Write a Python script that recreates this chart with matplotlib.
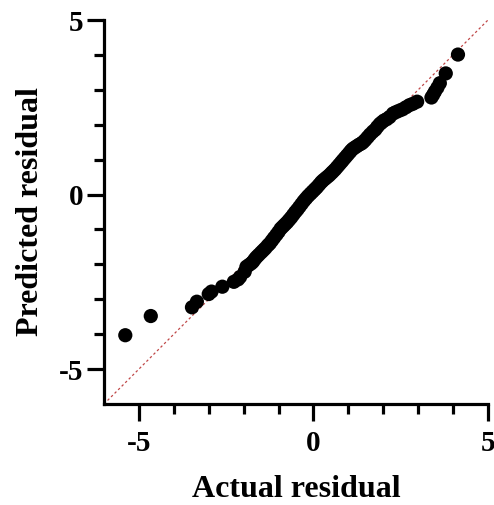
import matplotlib.pyplot as plt
from matplotlib.ticker import FixedLocator

# Residual pairs
actual = [-5.39, -4.66, -3.48, -3.34, -3.00, -2.92, -2.61, -2.28, -2.16, -2.10,
          -1.97, -1.92, -1.85, -1.78, -1.73, -1.68, -1.63, -1.57, -1.50, -1.44,
          -1.38, -1.31, -1.25, -1.19, -1.13, -1.06, -1.00, -0.94, -0.88, -0.82,
          -0.76, -0.70, -0.64, -0.58, -0.52, -0.46, -0.40, -0.34, -0.28, -0.22,
          -0.16, -0.10, -0.05, 0.00, 0.05, 0.10, 0.16, 0.22, 0.27, 0.33,
          0.39, 0.45, 0.51, 0.56, 0.62, 0.68, 0.74, 0.80, 0.85, 0.91,
          0.97, 1.03, 1.08, 1.13, 1.19, 1.25, 1.31, 1.37, 1.42, 1.48,
          1.55, 1.62, 1.70, 1.77, 1.83, 1.90, 1.96, 2.02, 2.10, 2.18,
          2.28, 2.36, 2.45, 2.55, 2.65, 2.75, 2.85, 2.97, 3.38, 3.43,
          3.48, 3.55, 3.62, 3.79, 4.14]
predicted = [-4.03, -3.48, -3.23, -3.07, -2.85, -2.78, -2.64, -2.50, -2.43, -2.36,
             -2.21, -2.07, -2.02, -1.97, -1.92, -1.85, -1.79, -1.73, -1.66, -1.60,
             -1.54, -1.46, -1.40, -1.32, -1.24, -1.15, -1.07, -0.98, -0.92, -0.86,
             -0.80, -0.73, -0.66, -0.58, -0.50, -0.43, -0.35, -0.27, -0.19, -0.12,
             -0.05, 0.01, 0.06, 0.11, 0.16, 0.21, 0.28, 0.35, 0.40, 0.45,
             0.50, 0.55, 0.61, 0.66, 0.72, 0.79, 0.86, 0.93, 0.99, 1.06,
             1.13, 1.20, 1.26, 1.31, 1.35, 1.39, 1.43, 1.46, 1.50, 1.56,
             1.64, 1.72, 1.80, 1.86, 1.94, 2.02, 2.07, 2.12, 2.16, 2.22,
             2.32, 2.36, 2.40, 2.44, 2.50, 2.56, 2.60, 2.66, 2.78, 2.86,
             2.95, 3.06, 3.19, 3.47, 4.01]

lims = (-6, 5)
major_ticks = [-5, 0, 5]
minor_ticks = [-4, -3, -2, -1, 1, 2, 3, 4]

plt.rcParams['font.family'] = ['Liberation Serif', 'DejaVu Serif']
plt.rcParams['font.weight'] = 'bold'
plt.rcParams['axes.unicode_minus'] = False

fig = plt.figure(figsize=(4.94, 5.05), dpi=100)
ax = fig.add_axes([104 / 494, 1 - 404 / 505, 384 / 494, 384 / 505])

# identity reference line
ax.axline((0, 0), slope=1, color='#c04848', lw=0.9, ls=(0, (2, 2)), zorder=1)
ax.scatter(actual, predicted, s=105, color='black', edgecolors='none', zorder=2)

ax.set_xlim(lims)
ax.set_ylim(lims)
ax.xaxis.set_major_locator(FixedLocator(major_ticks))
ax.yaxis.set_major_locator(FixedLocator(major_ticks))
ax.xaxis.set_minor_locator(FixedLocator(minor_ticks))
ax.yaxis.set_minor_locator(FixedLocator(minor_ticks))

for side in ['top', 'right']:
    ax.spines[side].set_visible(False)
for side in ['left', 'bottom']:
    ax.spines[side].set_linewidth(2.3)

ax.tick_params(which='major', length=12, width=2.3, labelsize=21, pad=3)
ax.tick_params(which='minor', length=7.5, width=2.3)
ax.tick_params(axis='x', which='major', pad=7)

ax.set_xlabel('Actual residual', fontsize=23, fontweight='bold', labelpad=13)
ax.set_ylabel('Predicted residual', fontsize=23, fontweight='bold', labelpad=10)

fig.savefig('out.png', dpi=100)
